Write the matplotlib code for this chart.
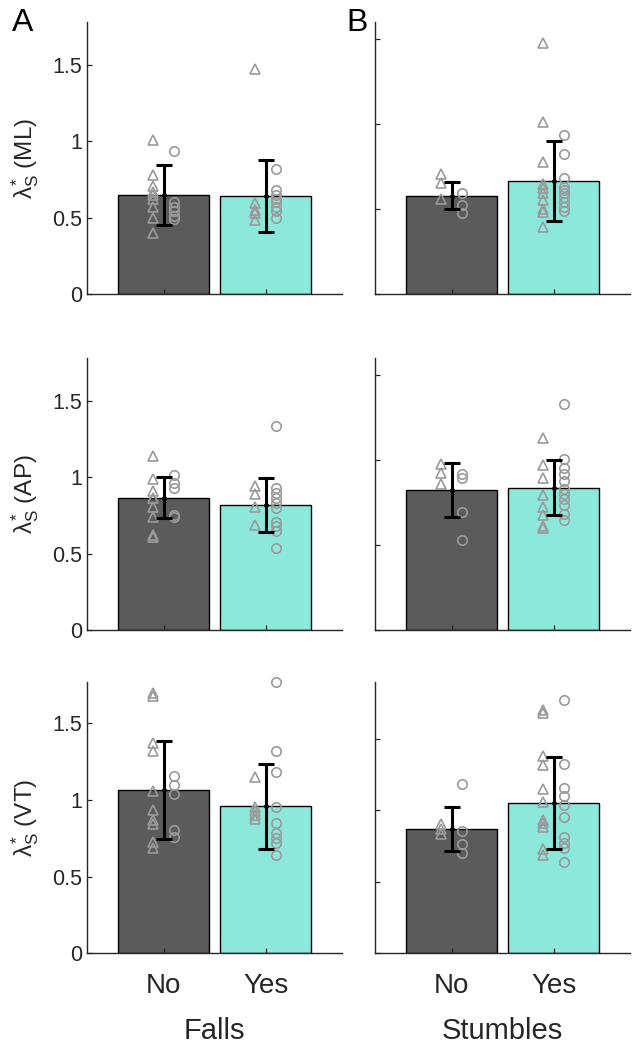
import matplotlib
matplotlib.use("Agg")
import matplotlib.pyplot as plt
import numpy as np

plt.rcParams['font.family'] = ['Liberation Sans', 'DejaVu Sans']
plt.rcParams['mathtext.fontset'] = 'custom'
plt.rcParams['mathtext.rm'] = 'Liberation Sans'
plt.rcParams['mathtext.it'] = 'Liberation Sans'
plt.rcParams['mathtext.bf'] = 'Liberation Sans:bold'

# ---------------- data ----------------
groups = ["No", "Yes"]
xlabels = ["Falls", "Stumbles"]
row_labels = ["ML", "AP", "VT"]

# Falls (column A)
falls_mean = [[0.65, 0.64], [0.866, 0.817], [1.065, 0.956]]
falls_sd = [[0.196, 0.234], [0.131, 0.175], [0.318, 0.280]]
falls_tri = [
    [[1.01, 0.776, 0.707, 0.667, 0.646, 0.624, 0.57, 0.498, 0.396],
     [1.472, 0.596, 0.548, 0.53, 0.487]],
    [[1.135, 0.987, 0.906, 0.862, 0.801, 0.736, 0.622, 0.61],
     [0.939, 0.889, 0.801, 0.686]],
    [[1.696, 1.674, 1.37, 1.315, 1.054, 0.93, 0.87, 0.843, 0.728, 0.685],
     [1.148, 0.952, 0.924, 0.898, 0.876]],
]
falls_circ = [
    [[0.935, 0.60, 0.57, 0.54, 0.51, 0.49],
     [0.82, 0.678, 0.646, 0.62, 0.60, 0.57, 0.54, 0.50]],
    [[1.01, 0.96, 0.928, 0.753, 0.738],
     [1.336, 0.928, 0.895, 0.862, 0.83, 0.797, 0.703, 0.677, 0.65, 0.535]],
    [[1.152, 1.098, 1.037, 0.804, 0.757],
     [1.768, 1.32, 1.181, 0.952, 0.848, 0.783, 0.75, 0.718, 0.637]],
]

# Stumbles (column B)
stumb_mean = [[0.578, 0.665], [0.822, 0.837], [0.867, 1.051]]
stumb_sd = [[0.079, 0.237], [0.157, 0.16], [0.153, 0.322]]
stumb_tri = [
    [[0.706, 0.655, 0.559],
     [1.475, 1.01, 0.778, 0.647, 0.622, 0.592, 0.553, 0.498, 0.484, 0.392]],
    [[0.978, 0.925, 0.857],
     [1.131, 0.969, 0.892, 0.792, 0.724, 0.676, 0.612, 0.60]],
    [[0.907, 0.872, 0.837],
     [1.703, 1.679, 1.377, 1.314, 1.151, 1.058, 0.935, 0.911, 0.884, 0.726, 0.686]],
]
stumb_circ = [
    [[0.592, 0.524, 0.475],
     [0.935, 0.822, 0.68, 0.631, 0.612, 0.592, 0.573, 0.543, 0.514, 0.49]],
    [[0.916, 0.892, 0.696, 0.529],
     [1.327, 1.004, 0.951, 0.916, 0.873, 0.827, 0.798, 0.769, 0.735, 0.68, 0.645]],
    [[1.181, 0.853, 0.763, 0.702],
     [1.772, 1.321, 1.158, 1.098, 1.035, 0.953, 0.814, 0.772, 0.733, 0.639]],
]

left_ylim = [1.78, 1.78, 1.77]
right_ylim = [1.6, 1.6, 1.9]
yticks = [0, 0.5, 1, 1.5]
ytick_labels = ["0", "0.5", "1", "1.5"]

bar_colors = ["#5b5b5b", "#8de8dc"]
marker_color = "#9a9a9a"

# ---------------- figure ----------------
fig = plt.figure(figsize=(6.39, 10.5), dpi=100)

col_x = [87 / 639, 375 / 639]
ax_w = 255 / 639
row_y = [(22, 294), (357.7, 630), (681.5, 953.3)]

cols = [
    (falls_mean, falls_sd, falls_tri, falls_circ, left_ylim),
    (stumb_mean, stumb_sd, stumb_tri, stumb_circ, right_ylim),
]

xpos = np.array([1, 2])
off = 0.1

for c, (means, sds, tris, circs, ylims) in enumerate(cols):
    for r in range(3):
        top, bot = row_y[r]
        ax = fig.add_axes([col_x[c], 1 - bot / 1050, ax_w, (bot - top) / 1050])
        ax.bar(xpos, means[r], width=0.9, color=bar_colors,
               edgecolor="black", linewidth=1.0, zorder=1)
        for i in range(2):
            t = tris[r][i]
            ci = circs[r][i]
            ax.plot(np.full(len(t), xpos[i] - off), t, linestyle="none",
                    marker="^", markersize=7, markerfacecolor="none",
                    markeredgecolor=marker_color, markeredgewidth=1.2,
                    zorder=2, clip_on=False)
            ax.plot(np.full(len(ci), xpos[i] + off), ci, linestyle="none",
                    marker="o", markersize=6.8, markerfacecolor="none",
                    markeredgecolor=marker_color, markeredgewidth=1.2,
                    zorder=2, clip_on=False)
        ax.errorbar(xpos, means[r], yerr=sds[r], fmt="o", color="black",
                    markersize=2.5, elinewidth=2.2, capsize=6, capthick=2.2,
                    zorder=3)
        ax.set_xlim(0.25, 2.75)
        ax.set_ylim(0, ylims[r])
        ax.set_yticks(yticks)
        ax.set_xticks(xpos)
        for s in ["top", "right"]:
            ax.spines[s].set_visible(False)
        for s in ["left", "bottom"]:
            ax.spines[s].set_linewidth(1.0)
            ax.spines[s].set_color("#262626")
        ax.tick_params(direction="in", length=3.5, width=0.9, colors="#262626",
                       labelsize=15.5, labelcolor="#262626")
        if c == 0:
            ax.set_yticklabels(ytick_labels)
            ax.set_ylabel(r"$\lambda^{*}_{\mathrm{S}}$ (" + row_labels[r] + ")",
                          fontsize=17.5, color="#262626", labelpad=8)
        else:
            ax.set_yticklabels([])
        if r == 2:
            ax.set_xticklabels(groups, fontsize=20)
            ax.tick_params(axis="x", pad=14)
            ax.set_xlabel(xlabels[c], fontsize=21, color="#262626", labelpad=13)
        else:
            ax.set_xticklabels([])

fig.text(12 / 639, 1 - 31 / 1050, "A", fontsize=23, color="black")
fig.text(346 / 639, 1 - 31 / 1050, "B", fontsize=23, color="black")

fig.savefig("out.png", dpi=100)
